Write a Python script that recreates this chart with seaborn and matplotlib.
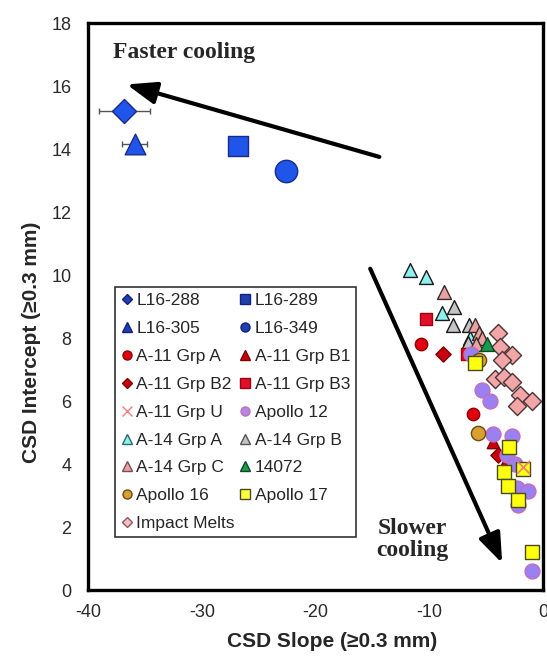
import numpy as np
import pandas as pd
import matplotlib
matplotlib.use("Agg")
import matplotlib.pyplot as plt
from matplotlib.lines import Line2D
import seaborn as sns

# Lunar samples (large symbols, top left)
l16_288_x = [-36.8]
l16_288_y = [15.2]
l16_288_xerr = [2.2]
l16_305_x = [-35.9]
l16_305_y = [14.15]
l16_305_xerr = [1.1]
l16_289_x = [-26.8]
l16_289_y = [14.1]
l16_349_x = [-22.6]
l16_349_y = [13.3]

# Reference groups (cluster lower right)
a11_a_x = [-10.7, -6.2]
a11_a_y = [7.8, 5.6]
a11_b1_x = [-4.4, -3.3]
a11_b1_y = [4.7, 4.1]
a11_b2_x = [-8.8, -4.0]
a11_b2_y = [7.5, 4.3]
a11_b3_x = [-10.3, -6.7]
a11_b3_y = [8.6, 7.5]
a11_u_x = [-1.8]
a11_u_y = [3.9]
apollo12_x = [-6.3, -5.4, -4.7, -4.4, -2.7, -3.2, -2.5, -2.3, -1.3, -2.2, -1.0]
apollo12_y = [7.5, 6.35, 6.0, 4.95, 4.9, 4.3, 4.0, 3.25, 3.15, 2.7, 0.6]
a14_a_x = [-11.7, -10.3, -8.9, -6.4]
a14_a_y = [10.15, 9.95, 8.8, 8.0]
a14_b_x = [-7.8, -7.9, -6.6, -6.5]
a14_b_y = [9.0, 8.4, 7.85, 8.4]
a14_c_x = [-8.7, -6.0, -5.6, -5.4, -5.9]
a14_c_y = [9.45, 8.4, 8.15, 8.0, 7.8]
s14072_x = [-4.9]
s14072_y = [7.8]
apollo16_x = [-5.6, -5.7]
apollo16_y = [7.3, 5.0]
apollo17_x = [-6.0, -3.0, -3.4, -1.8, -3.1, -2.2, -1.0]
apollo17_y = [7.2, 4.55, 3.75, 3.85, 3.3, 2.85, 1.2]
melts_x = [-4.0, -3.8, -2.75, -3.6, -4.2, -3.4, -2.75, -2.0, -1.0, -2.3]
melts_y = [8.15, 7.7, 7.45, 7.3, 6.7, 6.75, 6.6, 6.2, 6.0, 5.85]

x_ticks = [-40, -30, -20, -10, 0]
y_ticks = [0, 2, 4, 6, 8, 10, 12, 14, 16, 18]

sns.set_style("white")
plt.rcParams['font.family'] = ['Liberation Sans', 'DejaVu Sans']
plt.rcParams['axes.unicode_minus'] = False

fig = plt.figure(figsize=(5.47, 6.56), dpi=100)
ax = fig.add_axes([0.161, 0.1006, 0.832, 0.8643])

# (label, x, y, marker, face, edge, size, legend face, legend edge)
groups = [
    ("A-14 Grp A", a14_a_x, a14_a_y, "^", "#8ff0ee", "#1a1a1a", 100, "#8ff0ee", "#2a6a6a"),
    ("A-14 Grp B", a14_b_x, a14_b_y, "^", "#c4c4c8", "#1a1a1a", 100, "#c4c4c8", "#555555"),
    ("A-14 Grp C", a14_c_x, a14_c_y, "^", "#e8a2a2", "#3a2a2a", 100, "#e8a2a2", "#7a5050"),
    ("Impact Melts", melts_x, melts_y, "D", "#f2a6a8", "#4a3434", 85, "#f2c0c2", "#8a5a60"),
    ("A-11 Grp A", a11_a_x, a11_a_y, "o", "#e00010", "#900000", 80, "#e00010", "#900000"),
    ("A-11 Grp B1", a11_b1_x, a11_b1_y, "^", "#c80010", "#800000", 80, "#c80010", "#800000"),
    ("A-11 Grp B2", a11_b2_x, a11_b2_y, "D", "#c80010", "#800000", 60, "#c80010", "#800000"),
    ("A-11 Grp B3", a11_b3_x, a11_b3_y, "s", "#e0102a", "#a00010", 80, "#e0102a", "#a00010"),
    ("14072", s14072_x, s14072_y, "^", "#1a9a50", "#0a4a20", 100, "#1a9a50", "#0a4a20"),
    ("Apollo 12", apollo12_x, apollo12_y, "o", "#9a80f0", "#c070b8", 115, "#b088e0", "#c070b8"),
    ("Apollo 16", apollo16_x, apollo16_y, "o", "#d8a030", "#6a4a10", 105, "#d8a030", "#6a4a10"),
    ("Apollo 17", apollo17_x, apollo17_y, "s", "#ffff10", "#4a4a20", 90, "#ffff40", "#4a4a20"),
    ("A-11 Grp U", a11_u_x, a11_u_y, "x", "#f08080", "#f08080", 90, "#f08080", "#f08080"),
    ("L16-288", l16_288_x, l16_288_y, "D", "#1f55e8", "#1a2a8a", 150, "#1f3fb0", "#14207a"),
    ("L16-305", l16_305_x, l16_305_y, "^", "#1f55e8", "#1a2a8a", 220, "#1f3fb0", "#14207a"),
    ("L16-289", l16_289_x, l16_289_y, "s", "#1f55e8", "#1a2a8a", 220, "#1f3fb0", "#14207a"),
    ("L16-349", l16_349_x, l16_349_y, "o", "#1f55e8", "#1a2a8a", 260, "#1f3fb0", "#14207a"),
]

# error bars on the two leftmost points
ax.errorbar(l16_288_x, l16_288_y, xerr=l16_288_xerr, fmt="none", ecolor="#555555",
            elinewidth=1, capsize=2.5, zorder=2)
ax.errorbar(l16_305_x, l16_305_y, xerr=l16_305_xerr, fmt="none", ecolor="#555555",
            elinewidth=1, capsize=2.5, zorder=2)

styles = {}
for label, xs, ys, mk, fc, ec, s, lfc, lec in groups:
    df = pd.DataFrame({"slope": xs, "intercept": ys})
    if mk == "x":
        sns.scatterplot(data=df, x="slope", y="intercept", marker=mk, color=fc,
                        s=s, linewidth=1.2, ax=ax, zorder=3)
    else:
        sns.scatterplot(data=df, x="slope", y="intercept", marker=mk, color=fc,
                        edgecolor=ec, s=s, linewidth=1.0, ax=ax, zorder=3)
    styles[label] = (mk, lfc, lec)

# arrows
arrow_style = "-|>,head_length=1.2,head_width=0.45"
ax.annotate("", xy=(-36.6, 16.05), xytext=(-14.4, 13.75),
            arrowprops=dict(arrowstyle=arrow_style, color="black", lw=3,
                            mutation_scale=15, shrinkA=0, shrinkB=0))
ax.annotate("", xy=(-3.6, 0.85), xytext=(-15.2, 10.2),
            arrowprops=dict(arrowstyle=arrow_style, color="black", lw=3,
                            mutation_scale=15, shrinkA=0, shrinkB=0))
ax.text(-37.8, 17.05, "Faster cooling", fontsize=17, fontweight="bold",
        family="Liberation Serif", ha="left", va="center")
ax.text(-11.5, 1.6, "Slower\ncooling", fontsize=17, fontweight="bold",
        family="Liberation Serif", ha="center", va="center", linespacing=1.1)

# legend (column-major order)
col1 = ["L16-288", "L16-305", "A-11 Grp A", "A-11 Grp B2", "A-11 Grp U",
        "A-14 Grp A", "A-14 Grp C", "Apollo 16", "Impact Melts"]
col2 = ["L16-289", "L16-349", "A-11 Grp B1", "A-11 Grp B3", "Apollo 12",
        "A-14 Grp B", "14072", "Apollo 17"]
handles = []
for name in col1 + col2:
    mk, fc, ec = styles[name]
    ms = 5.5 if mk in ("D",) else 6.5
    handles.append(Line2D([], [], linestyle="none", marker=mk, markersize=ms,
                          markerfacecolor=fc, markeredgecolor=ec, markeredgewidth=1.0,
                          label=name))
leg = ax.legend(handles=handles, ncol=2, loc="upper left", bbox_to_anchor=(0.06, 0.534),
                borderaxespad=0, fontsize=12.5, frameon=True, fancybox=False,
                handlelength=0.6, handletextpad=0.25, columnspacing=0.3,
                labelspacing=0.73, borderpad=0.35)
leg.get_frame().set_edgecolor("black")
leg.get_frame().set_linewidth(1.2)

ax.set_xlim(-40, 0)
ax.set_ylim(0, 18)
ax.set_xticks(x_ticks)
ax.set_yticks(y_ticks)
ax.tick_params(axis="both", direction="out", length=5, width=1, color="#999999",
               labelsize=13, labelcolor="#2a2a2a", pad=5)
ax.tick_params(axis="y", pad=7)
for sp in ax.spines.values():
    sp.set_linewidth(2.4)
    sp.set_color("black")

ax.set_xlabel("CSD Slope (≥0.3 mm)", fontsize=15, fontweight="bold")
ax.set_ylabel("CSD Intercept (≥0.3 mm)", fontsize=15, fontweight="bold")
ax.xaxis.set_label_coords(0.537, -0.074)
ax.yaxis.set_label_coords(-0.104, 0.437)

plt.savefig("out.png", dpi=100)
